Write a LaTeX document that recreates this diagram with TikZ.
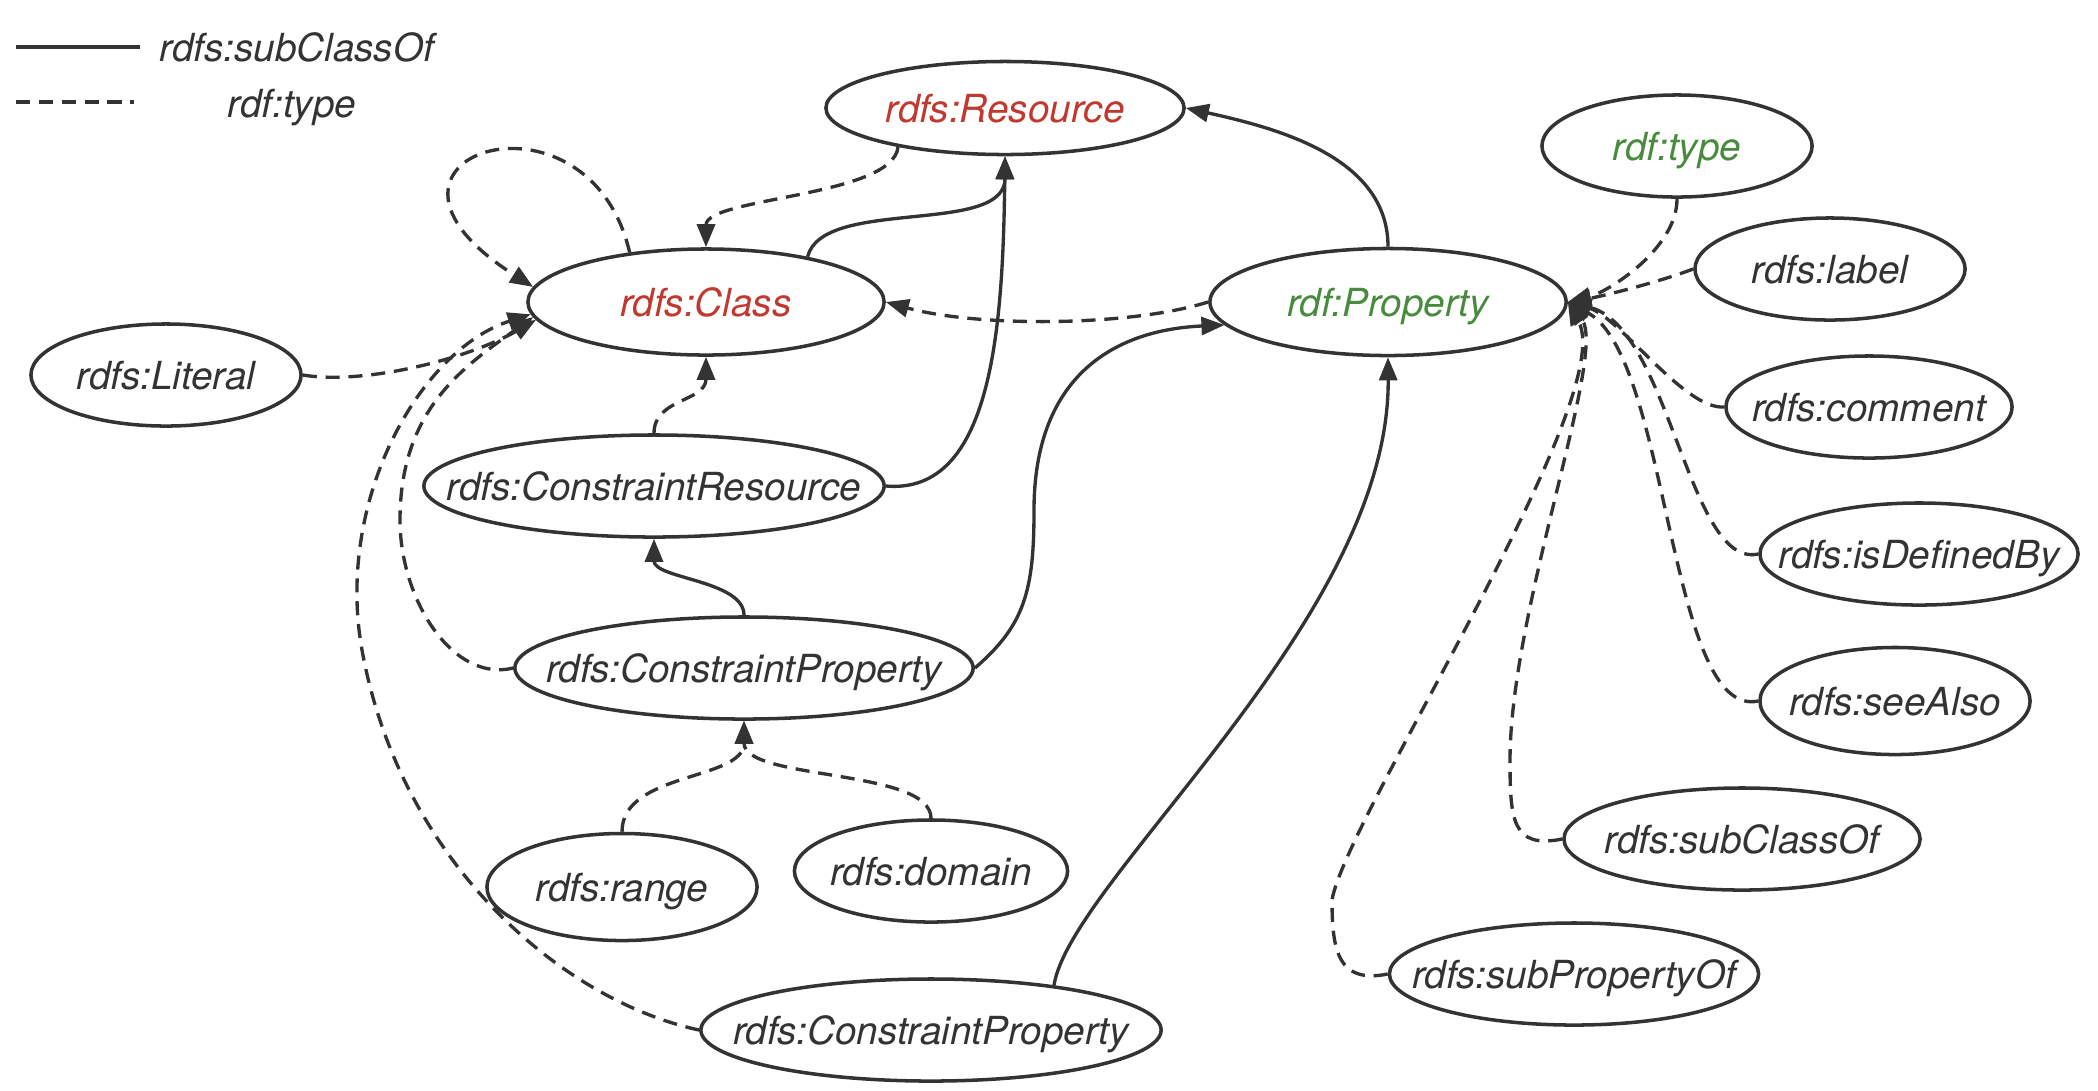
\documentclass[tikz,border=0pt]{standalone}
\usepackage{fontspec}
\setmainfont{TeX Gyre Heros}
\usepackage{xcolor}
\usepackage{tikz}
\usetikzlibrary{arrows.meta,shapes.geometric}
\definecolor{edgegray}{RGB}{51,51,51}
\definecolor{clsred}{RGB}{192,56,46}
\definecolor{prpgreen}{RGB}{72,138,62}

\begin{document}
\begin{tikzpicture}[
  x=0.01cm, y=-0.01cm,
  every node/.style={ellipse, draw=edgegray, line width=1pt, text=edgegray,
    inner xsep=-1.5cm, inner ysep=-0.3cm, text height=8pt, text depth=0pt,
    font=\fontsize{11}{13}\selectfont\itshape},
  sub/.style={line width=0.95pt, color=edgegray, -{Triangle[length=2.3mm,width=1.8mm]}},
  typ/.style={sub, dash pattern=on 4pt off 2.5pt},
  lg/.style={rectangle, draw=none, inner sep=0pt},
  cls/.style={text=clsred},
  prp/.style={text=prpgreen}
]
  \useasboundingbox (0,0) rectangle (2098,1090);

  % legend
  \coordinate (l1a) at (16,47);
  \coordinate (l1b) at (140,47);
  \coordinate (l2a) at (16,102);
  \coordinate (l2b) at (134,102);
  \draw[line width=1pt, edgegray] (l1a) -- (l1b);
  \draw[line width=1pt, edgegray, dash pattern=on 4pt off 2.5pt] (l2a) -- (l2b);
  \node[lg, anchor=west] (lsub) at (158,47) {rdfs:subClassOf};
  \node[lg] (ltyp) at (292,103) {rdf:type};

  % nodes
  \node[cls, minimum width=3.58cm, minimum height=0.93cm] (res) at (1005,108) {rdfs:Resource};
  \node[cls, minimum width=3.56cm, minimum height=1.06cm] (cl) at (706,302) {rdfs:Class};
  \node[prp, minimum width=3.56cm, minimum height=1.07cm] (prop) at (1388,302) {rdf:Property};
  \node[prp, minimum width=2.70cm, minimum height=1.02cm] (rtype) at (1677,146) {rdf:type};
  \node[minimum width=2.70cm, minimum height=1.02cm] (label) at (1830,269) {rdfs:label};
  \node[minimum width=2.86cm, minimum height=1.02cm] (comment) at (1869,407) {rdfs:comment};
  \node[minimum width=3.18cm, minimum height=1.02cm] (isdef) at (1919,554) {rdfs:isDefinedBy};
  \node[minimum width=2.70cm, minimum height=1.07cm] (see) at (1895,701) {rdfs:seeAlso};
  \node[minimum width=3.56cm, minimum height=1.02cm] (subc) at (1742,839) {rdfs:subClassOf};
  \node[minimum width=3.69cm, minimum height=1.02cm] (subp) at (1574,974) {rdfs:subPropertyOf};
  \node[minimum width=2.70cm, minimum height=1.02cm] (lit) at (166,375) {rdfs:Literal};
  \node[minimum width=4.60cm, minimum height=1.02cm] (cres) at (654,486) {rdfs:ConstraintResource};
  \node[minimum width=4.58cm, minimum height=1.02cm] (cprop) at (744,668) {rdfs:ConstraintProperty};
  \node[minimum width=2.70cm, minimum height=1.07cm] (range) at (622,887) {rdfs:range};
  \node[minimum width=2.73cm, minimum height=1.02cm] (domain) at (931,871) {rdfs:domain};
  \node[minimum width=4.60cm, minimum height=1.02cm] (cprop2) at (931,1030) {rdfs:ConstraintProperty};

  % rdfs:subClassOf
  \draw[sub] (prop.north) .. controls +(0,-90) and +(90,20) .. (res.east);
  \draw[sub] (cl.24) .. controls +(15,-60) and +(0,80) .. (res.south);
  \draw[sub] (cres.east) .. controls +(106,9) and +(-2,173) .. (res.south);
  \draw[sub] (cprop.north) .. controls +(0,-35) and +(0,40) .. (cres.south);
  \draw[sub] (cprop.east) .. controls (1025,625) and (1034,590) .. (1034,510)
    .. controls (1034,380) and (1110,330) .. (prop.188);
  \draw[sub] (cprop2.20) .. controls +(17,-106) and +(2,262) .. (prop.south);

  % rdf:type
  \draw[typ] (res.200) .. controls +(-5,50) and +(0,-50) .. (cl.north);
  \draw[typ] (cl.147) .. controls +(-42,-180) and +(-205,-130) .. (cl.175);
  \draw[typ] (prop.west) .. controls +(-80,25) and +(90,25) .. (cl.east);
  \draw[typ] (lit.east) .. controls +(60,10) and +(-70,40) .. (cl.186);
  \draw[typ] (cres.north) .. controls +(0,-35) and +(0,45) .. (cl.south);
  \draw[typ] (cprop.west) .. controls +(-60,15) and +(0,80) .. (400,520)
    .. controls +(0,-110) and +(-70,50) .. (cl.185);
  \draw[typ] (cprop2.west) .. controls (560,1000) and (400,860) .. (362,650)
    .. controls (335,500) and (420,350) .. (cl.184);
  \draw[typ] (range.north) .. controls +(0,-60) and +(0,60) .. (cprop.south);
  \draw[typ] (domain.north) .. controls +(0,-50) and +(0,60) .. (cprop.south);
  \draw[typ] (rtype.south) .. controls +(0,50) and +(40,-10) .. (prop.east);
  \draw[typ] (label.west) .. controls +(-40,15) and +(30,-5) .. (prop.east);
  \draw[typ] (comment.west) .. controls +(-40,3) and +(52,15) .. (prop.east);
  \draw[typ] (isdef.west) .. controls +(-70,15) and +(102,25) .. (prop.east);
  \draw[typ] (see.west) .. controls +(-90,19) and +(102,55) .. (prop.east);
  \draw[typ] (subc.west) .. controls +(-50,10) and +(0,60) .. (1510,760)
    .. controls +(0,-150) and +(40,50) .. (prop.east);
  \draw[typ] (subp.west) .. controls +(-50,10) and +(0,50) .. (1332,900)
    .. controls +(13,-80) and +(52,95) .. (prop.east);
\end{tikzpicture}
\end{document}
